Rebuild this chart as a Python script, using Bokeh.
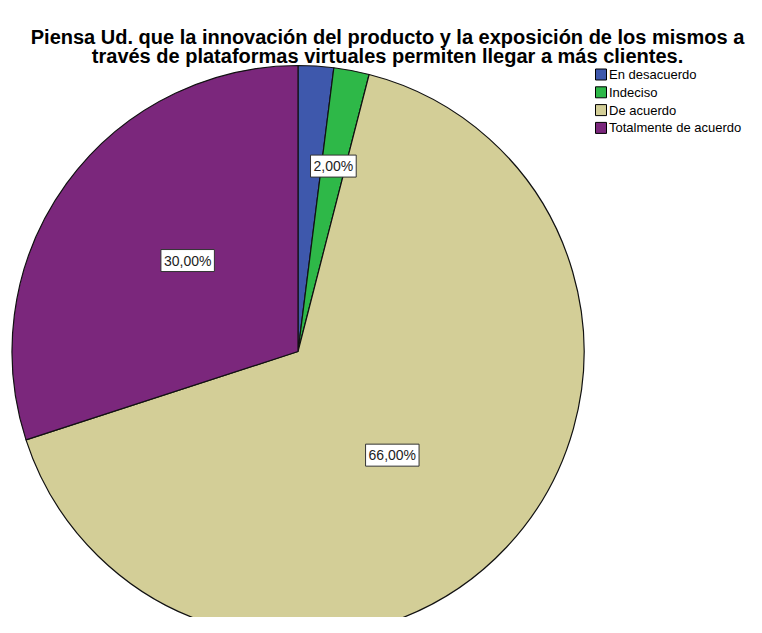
import math
from bokeh.plotting import figure
from bokeh.models import Range1d
from bokeh.core.properties import value
from bokeh.embed import file_html
from bokeh.resources import INLINE

# ---- data ----
title_lines = ["Piensa Ud. que la innovación del producto y la exposición de los mismos a",
               "través de plataformas virtuales permiten llegar a más clientes."]
categories = ["En desacuerdo", "Indeciso", "De acuerdo", "Totalmente de acuerdo"]
percents = [2.0, 2.0, 66.0, 30.0]
colors = ["#3E58AC", "#2EB848", "#D3CE97", "#7B277C"]
show_label = [False, True, True, True]
label_radius_frac = [0.66, 0.66, 0.49, 0.5]
label_angle_shift = [0.0, 0.0, -4.5, -3.5]

# ---- layout (pixels) ----
W, H = 746, 617
R = 286.0
cx, cy = 297.5, 351.0  # pie center in figure pixels from left / top

p = figure(width=W, height=H, output_backend="svg", toolbar_location=None,
           x_range=Range1d(-cx, W - cx), y_range=Range1d(-(H - cy), cy),
           min_border=0, outline_line_color=None)
p.axis.visible = False
p.grid.visible = False
p.background_fill_color = "white"
p.border_fill_color = "white"

# wedges: start at 90 degrees, clockwise
total = sum(percents)
starts, ends, mids = [], [], []
a = 90.0
for v in percents:
    sweep = 360.0 * v / total
    starts.append(math.radians(a))
    ends.append(math.radians(a - sweep))
    mids.append(a - sweep / 2)
    a -= sweep

p.wedge(x=0, y=0, radius=R, start_angle=starts, end_angle=ends, direction="clock",
        fill_color=colors, line_color="#111111", line_width=1.2)

# labels
lx, ly, lt = [], [], []
for i, v in enumerate(percents):
    if not show_label[i]:
        continue
    ang = math.radians(mids[i] + label_angle_shift[i])
    rr = R * label_radius_frac[i]
    lx.append(rr * math.cos(ang))
    ly.append(rr * math.sin(ang))
    lt.append(("%.2f%%" % v).replace(".", ","))
p.text(x=lx, y=ly, text=lt, text_font=value("Liberation Sans"), text_font_size="14px",
       text_color="#222222", text_align="center", text_baseline="middle",
       background_fill_color="white", border_line_color="#333333", border_line_width=1,
       padding=3)

# title
p.text(x=[387 - cx, 387 - cx], y=[cy - 36, cy - 55], text=title_lines,
       text_font=value("Liberation Sans"), text_font_style="bold", text_font_size="20px",
       text_color="black", text_align="center", text_baseline="alphabetic")

# legend
leg_x = 600.5 - cx
leg_y0 = cy - 74
leg_dy = 17.8
ys = [leg_y0 - i * leg_dy for i in range(len(categories))]
p.rect(x=[leg_x] * len(categories), y=ys, width=11, height=11,
       fill_color=colors, line_color="black", line_width=1)
p.text(x=[leg_x + 8.0] * len(categories), y=ys, text=categories,
       text_font=value("Liberation Sans"), text_font_size="13px", text_color="black",
       text_align="left", text_baseline="middle")

open("out.html", "w").write(file_html(p, INLINE))
